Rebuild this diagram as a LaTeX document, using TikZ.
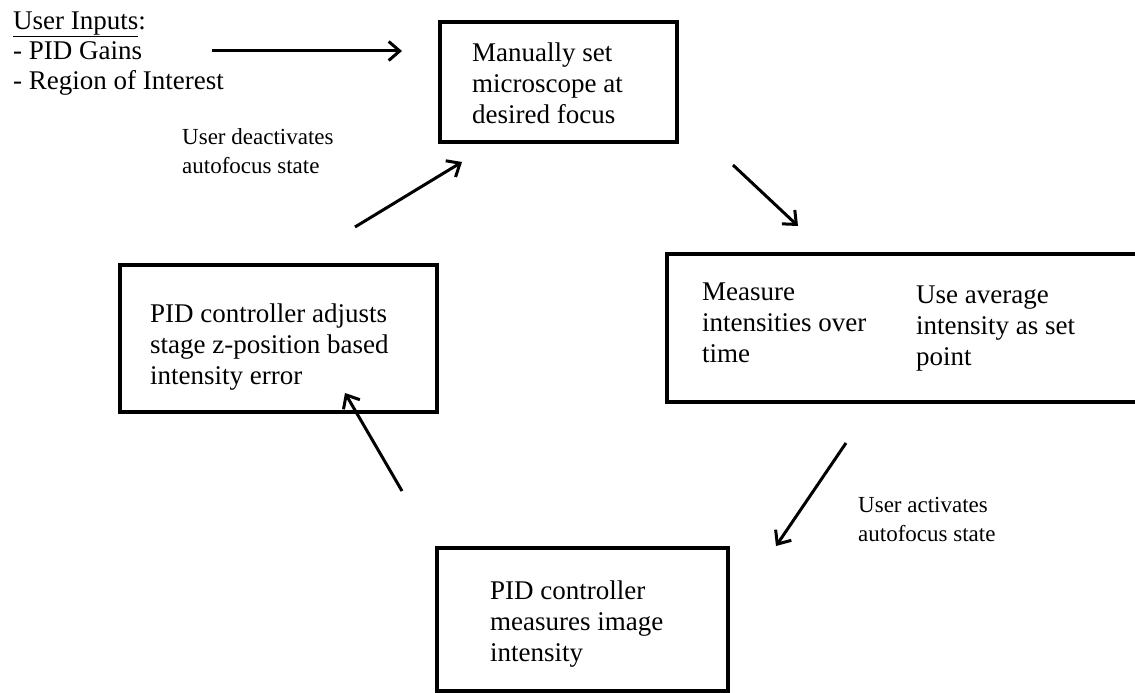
\documentclass[tikz,border=0pt]{standalone}
\usepackage{fontspec}
\setmainfont{Liberation Serif}
\usetikzlibrary{arrows.meta}
\begin{document}
\begin{tikzpicture}[x=1pt,y=-1pt,
  stagebox/.style={draw=black, line width=3.5pt, rectangle, inner sep=0pt},
  boxtext/.style={inner sep=0pt, anchor=base west, align=left,
    font=\fontsize{27}{31}\selectfont},
  smalltext/.style={inner sep=0pt, anchor=base west, align=left,
    font=\fontsize{23}{29}\selectfont},
  flow/.style={line width=3pt, -{Straight Barb[length=11pt,width=19pt]}}]
\useasboundingbox (0,0) rectangle (1135,693);
\clip (0,0) rectangle (1135,693);

% stage boxes
\node[stagebox, minimum width=237pt, minimum height=120pt] (manual) at (558.5,82) {};
\node[stagebox, minimum width=472pt, minimum height=148pt] (measure) at (903,328) {};
\node[stagebox, minimum width=317pt, minimum height=147pt] (adjust) at (278.5,338.5) {};
\node[stagebox, minimum width=291pt, minimum height=143pt] (pidmeas) at (582.5,619.5) {};

% box texts (placed by the baseline of their last line)
\node[boxtext] (manualtxt) at (472,123) {Manually set\\microscope at\\desired focus};
\node[boxtext] (measuretxt) at (702,362) {Measure\\intensities over\\time};
\node[boxtext] (setpttxt) at (916,365) {Use average\\intensity as set\\point};
\node[boxtext] (adjusttxt) at (150,384) {PID controller adjusts\\stage z-position based\\intensity error};
\node[boxtext] (pidmeastxt) at (490,661) {PID controller\\measures image\\intensity};

% user inputs
\node[boxtext, font=\fontsize{27}{30}\selectfont] (inputs) at (13,89)
  {\underline{User Inputs}:\\- PID Gains\\- Region of Interest};

% transition labels
\node[smalltext] (deact) at (182,173) {User deactivates\\autofocus state};
\node[smalltext] (act) at (858,541) {User activates\\autofocus state};

% arrow end points
\coordinate (inA) at (212,51);
\coordinate (inB) at (402,51);
\coordinate (upA) at (355,227);
\coordinate (upB) at (462,162);
\coordinate (dnA) at (733,165);
\coordinate (dnB) at (798,226);
\coordinate (ddA) at (846,443);
\coordinate (ddB) at (776,546);
\coordinate (luA) at (402,491);
\coordinate (luB) at (345,393);

\draw[flow] (inA) -- (inB);
\draw[flow] (upA) -- (upB);
\draw[flow] (dnA) -- (dnB);
\draw[flow] (ddA) -- (ddB);
\draw[flow] (luA) -- (luB);
\end{tikzpicture}
\end{document}
